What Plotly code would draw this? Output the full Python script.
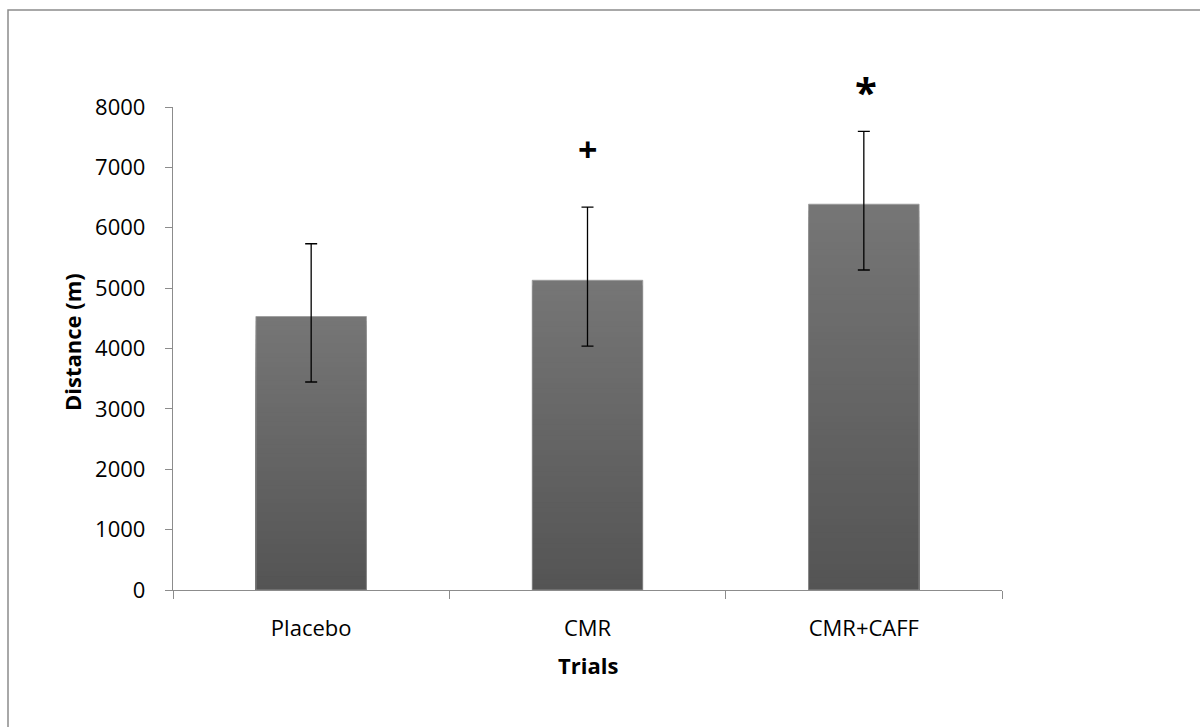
import plotly.graph_objects as go

# Data
trials = ["Placebo", "CMR", "CMR+CAFF"]
distance_m = [4530, 5130, 6390]
err_plus = [1205, 1210, 1205]
err_minus = [1085, 1090, 1090]
sig_marks = ["", "+", "*"]
sig_y = [None, 7300, 8310]
y_ticks = [0, 1000, 2000, 3000, 4000, 5000, 6000, 7000, 8000]
Y_MAX = 8000

W, H = 1200, 727
ML, MR, MT, MB = 173, 198, 107, 137
plot_w = W - ML - MR
plot_h = H - MT - MB

FONT = "Open Sans"
AXIS_GREY = "#8c8c8c"
FS = 22

fig = go.Figure()

# Vertical gradient fill for each bar: overlaid bars, each shorter and darker
N = 60
top_rgb = (118, 118, 118)
bot_rgb = (84, 84, 84)
for k in range(N):
    frac = (N - k - 0.5) / N
    c = tuple(round(b + (t - b) * frac) for t, b in zip(top_rgb, bot_rgb))
    fig.add_trace(go.Bar(
        x=trials,
        y=[v * (N - k) / N for v in distance_m],
        marker=dict(color="rgb(%d,%d,%d)" % c, line=dict(width=0)),
        hoverinfo="skip",
        showlegend=False,
    ))

# Bar outline with error bars
fig.add_trace(go.Bar(
    x=trials,
    y=distance_m,
    marker=dict(color="rgba(0,0,0,0)", line=dict(color="#9a9a9a", width=0.8)),
    error_y=dict(type="data", array=err_plus, arrayminus=err_minus,
                 color="black", thickness=1.3, width=6),
    showlegend=False,
))

# Significance symbols above bars; placed in paper units so marks above
# the axis top are still drawn (the asterisk glyph sits high in its line box)
for cat, mark, yv in zip(trials, sig_marks, sig_y):
    if not mark:
        continue
    fig.add_annotation(
        x=cat, y=yv / Y_MAX, xref="x", yref="paper",
        text="<b>%s</b>" % mark, showarrow=False,
        xanchor="center", yanchor="middle",
        xshift=2 if mark == "*" else 0,
        yshift=-3 if mark == "*" else 0,
        font=dict(family=FONT, size=40 if mark == "*" else 34, color="black"),
    )

fig.update_layout(
    width=W, height=H,
    margin=dict(l=ML, r=MR, t=MT, b=MB, autoexpand=False),
    paper_bgcolor="white",
    plot_bgcolor="white",
    barmode="overlay",
    bargap=0.6,
    font=dict(family=FONT, size=FS, color="black"),
    showlegend=False,
)

fig.update_xaxes(
    type="category",
    showline=True, linecolor=AXIS_GREY, linewidth=1.3,
    ticks="outside", tickson="boundaries", ticklen=8, tickcolor=AXIS_GREY, tickwidth=1.3,
    showgrid=False, zeroline=False,
    ticklabelstandoff=18,
    tickfont=dict(family=FONT, size=FS),
)
fig.update_yaxes(
    range=[0, Y_MAX],
    tickvals=y_ticks,
    showline=True, linecolor=AXIS_GREY, linewidth=1.3,
    ticks="outside", ticklen=7, tickcolor=AXIS_GREY, tickwidth=1.3,
    showgrid=False, zeroline=False,
    ticklabelstandoff=15,
    tickfont=dict(family=FONT, size=FS),
)

# Axis titles
fig.add_annotation(
    text="<b>Distance (m)</b>", textangle=-90,
    xref="paper", yref="paper",
    x=(72 - ML) / plot_w, y=(H - MB - 342) / plot_h,
    xanchor="center", yanchor="middle", showarrow=False,
    font=dict(family=FONT, size=FS),
)
fig.add_annotation(
    text="<b>Trials</b>",
    xref="paper", yref="paper",
    x=0.5, y=-(665 - (H - MB)) / plot_h,
    xanchor="center", yanchor="middle", showarrow=False,
    font=dict(family=FONT, size=FS),
)

# Chart area border
fig.add_shape(
    type="rect", xref="paper", yref="paper",
    x0=(8 - ML) / plot_w, x1=(W + 20 - ML) / plot_w,
    y0=-(H + 20 - MT - plot_h) / plot_h, y1=(H - MB - 10) / plot_h,
    line=dict(color=AXIS_GREY, width=1.5),
    fillcolor="rgba(0,0,0,0)", layer="below",
)

fig.write_html("out.html")
